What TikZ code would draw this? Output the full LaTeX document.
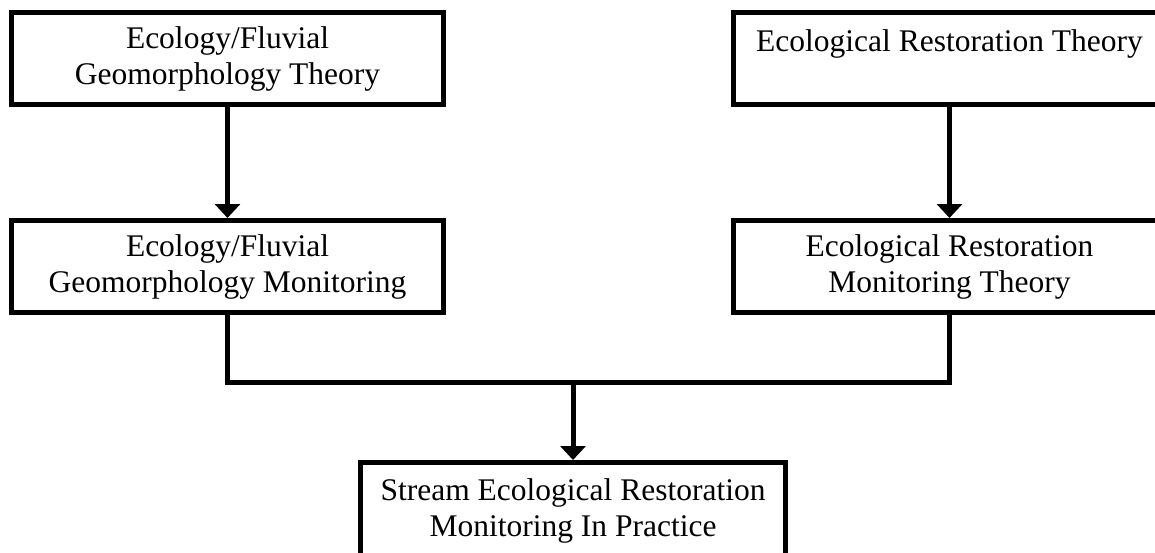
\documentclass[tikz,border=0pt]{standalone}
\usepackage{fontspec}
\setmainfont{Liberation Serif}
\usepackage{tikz}
\usetikzlibrary{
  arrows.meta,
  positioning
}

\begin{document}
\begin{tikzpicture}[
  x=1pt, y=-1pt,
  node distance=111pt,
  block/.style={
    rectangle,
    draw,
    line width=5pt,
    align=center,
    minimum width=432pt,
    minimum height=92pt,
    inner sep=0pt,
    font=\fontsize{31.5}{36}\selectfont
  },
  link/.style={
    line width=5pt
  },
  flow/.style={
    link,
    -{Triangle[length=14pt,width=25pt]}
  }
]
\clip (0,0) rectangle (1155,552);

\node[block] (ecology-theory) at (227.5,58.5) {Ecology/Fluvial\\Geomorphology Theory};
\node[block, right=285pt of ecology-theory] (restoration-theory) {Ecological Restoration Theory\\\mbox{}};
\node[block, below=of ecology-theory] (ecology-monitoring) {Ecology/Fluvial\\Geomorphology Monitoring};
\node[block, below=of restoration-theory] (restoration-monitoring) {Ecological Restoration\\Monitoring Theory};
\node[block, minimum width=425pt, minimum height=105pt] (monitoring-practice) at (573,515) {Stream Ecological Restoration\\Monitoring In Practice\\[-22pt]\mbox{}};

\coordinate (merge) at (monitoring-practice.north |- 0,382.5);

\draw[flow] (ecology-theory) -- (ecology-monitoring);
\draw[flow] (restoration-theory) -- (restoration-monitoring);
\draw[link] (ecology-monitoring.south) |- (merge) -| (restoration-monitoring.south);
\draw[flow] (merge) -- (monitoring-practice);
\end{tikzpicture}
\end{document}
